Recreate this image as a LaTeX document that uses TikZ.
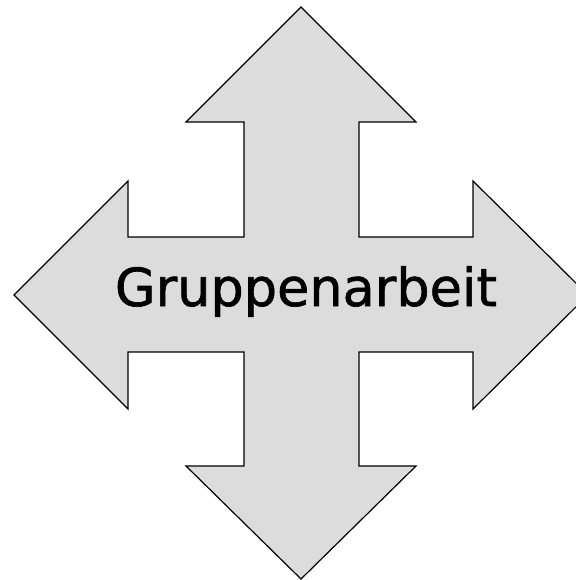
\documentclass[tikz,border=0pt]{standalone}
\usepackage{fontspec}
\setmainfont{DejaVu Sans}
\newfontfamily\labelfont[FakeBold=1.2]{DejaVu Sans}
\definecolor{arrowfill}{RGB}{220,220,220}
\begin{document}
\begin{tikzpicture}[x=1pt,y=-1pt,
  crossarrow/.style={fill=arrowfill,draw=black,line width=1.2pt,line join=miter}]
\useasboundingbox (0,0) rectangle (575,580);
\draw[crossarrow]
  (301,7) -- (416,122) -- (359,122) -- (359,237) -- (473,237) -- (473,181)
  -- (588,295) -- (473,409) -- (473,352) -- (359,352) -- (359,466)
  -- (416,466) -- (301,579) -- (186,466) -- (244,466) -- (244,352)
  -- (128,352) -- (128,409) -- (14,295) -- (128,181) -- (128,237)
  -- (244,237) -- (244,122) -- (186,122) -- cycle;
\node[anchor=base,inner sep=0pt] (label) at (306,306)
  {\resizebox{382pt}{!}{\labelfont Gruppenarbeit}};
\end{tikzpicture}
\end{document}
